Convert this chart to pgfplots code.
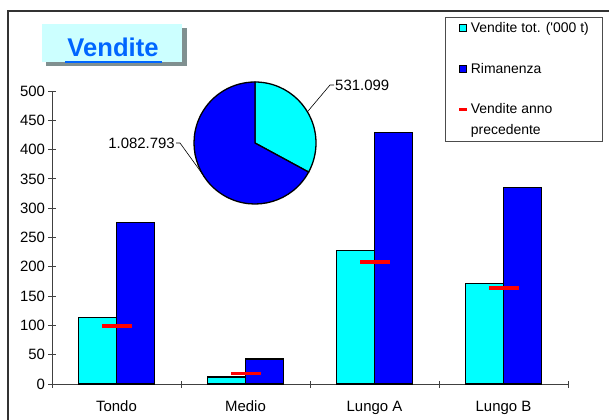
\documentclass[border=0pt]{standalone}
\usepackage{pgfplots}
\pgfplotsset{compat=1.18}
\usetikzlibrary{calc}
\usepackage{fontspec}
\setmainfont{Liberation Sans}
\definecolor{cy}{RGB}{0,255,255}
\definecolor{bl}{RGB}{0,0,255}
\definecolor{rd}{RGB}{255,0,0}
\definecolor{titleblue}{RGB}{0,102,255}
\definecolor{titlebg}{RGB}{204,255,255}
\definecolor{shadowc}{RGB}{128,144,144}
\begin{document}
\begin{tikzpicture}
\begin{scope}[x=1bp,y=1bp]
\fill[white] (0,0) rectangle (609,419);
\draw[black!80, line width=1.3bp] (8,-2) -- (8,408) -- (612,408);
% title box
\fill[shadowc] (46,353) rectangle (187,391);
\fill[titlebg] (42,357) rectangle (182,395);
\node[font=\fontsize{25.7}{30}\selectfont\bfseries, text=titleblue, anchor=base, inner sep=0pt] at (113,362.3) {Vendite};
\fill[titleblue] (65,355.7) rectangle (161.7,358.3);
\end{scope}

\begin{axis}[
  at={(52bp,35bp)}, anchor=south west,
  scale only axis, width=516bp, height=293bp,
  xmin=0.5, xmax=4.5, ymin=0, ymax=500,
  axis x line*=bottom, axis y line*=left,
  axis line style={black!75, line width=0.9bp},
  ytick={0,50,...,500},
  xtick={1,2,3,4}, xticklabels={Tondo,Medio,Lungo A,Lungo B},
  minor xtick={0.5,1.5,2.5,3.5,4.5},
  major x tick style={draw=none},
  tick align=center, major tick length=7bp, minor tick length=7bp,
  tick style={black!75, line width=0.9bp},
  tick label style={font=\fontsize{15}{18}\selectfont},
  xticklabel style={yshift=-10bp},
  /pgf/number format/assume math mode=true,
  clip=false,
  legend style={at={(axis description cs:0.7616,1.2526)}, anchor=north west,
    draw=black!70, line width=0.8bp, font=\fontsize{14}{21}\selectfont,
    row sep=25bp, inner xsep=12bp, inner ysep=3bp,
    cells={anchor=west, align=left}},
  legend cell align=left,
]
\addplot[ybar, bar width=38bp, bar shift=-19bp, fill=cy, draw=black, line width=1.2bp,
  legend image code/.code={\draw[fill=cy, draw=black, line width=1bp] (0bp,-3.5bp) rectangle (7bp,3.5bp);}]
  coordinates {(1,114) (2,12) (3,227.5) (4,172)};
\addlegendentry{Vendite tot. (\textquotesingle000 t)}
\addplot[ybar, bar width=38bp, bar shift=19bp, fill=bl, draw=black, line width=1.2bp,
  legend image code/.code={\draw[fill=bl, draw=black, line width=1bp] (0bp,-3.5bp) rectangle (7bp,3.5bp);}]
  coordinates {(1,275) (2,42.6) (3,428.9) (4,336)};
\addlegendentry{Rimanenza}
\addplot[only marks, mark=-, mark size=15bp, mark options={draw=rd, line width=3.5bp},
  legend image code/.code={\draw[rd, line width=3.5bp] (0bp,10.5bp) -- (8bp,10.5bp);}]
  coordinates {(1,99) (2,17.6) (3,208) (4,164)};
\addlegendentry{Vendite anno\\precedente}
\end{axis}

\begin{scope}[x=1bp,y=1bp]
% pie of totals
\def\va{531.099}
\def\vb{1082.793}
\pgfmathsetmacro\fracA{\va/(\va+\vb)}
\pgfmathsetmacro\angA{360*\fracA}
\pgfmathsetmacro\endA{90-\angA}
\pgfmathsetmacro\midA{90-\angA/2}
\pgfmathsetmacro\midB{90-\angA-(360-\angA)/2}
\filldraw[fill=cy, draw=black, line width=1.3bp] (255,276) -- ++(90:61) arc[start angle=90, end angle=\endA, radius=61] -- cycle;
\filldraw[fill=bl, draw=black, line width=1.3bp] (255,276) -- ++(\endA:61) arc[start angle=\endA, end angle=-270, radius=61] -- cycle;
\draw[black, line width=0.6bp] ($(255,276)+(\midA:61)$) -- (330,334) -- (334,334);
\node[anchor=west, inner sep=1bp, font=\fontsize{15}{18}\selectfont] at (334,334) {531.099};
\draw[black, line width=0.6bp] ($(255,276)+(\midB:61)$) -- (180,276) -- (176,276);
\node[anchor=east, inner sep=1bp, font=\fontsize{15}{18}\selectfont] at (176,276) {1.082.793};
\pgfresetboundingbox
\useasboundingbox (0,0) rectangle (609,419);
\end{scope}
\end{tikzpicture}
\end{document}
